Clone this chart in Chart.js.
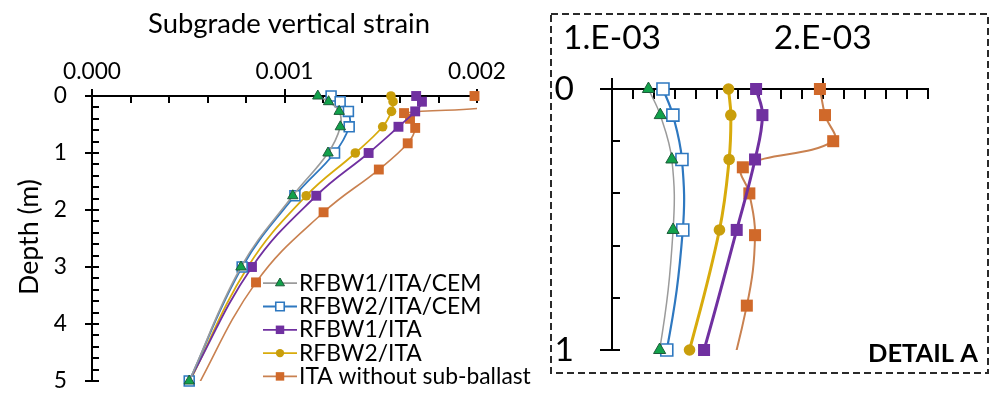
<!DOCTYPE html>
<html>
<head>
<meta charset="utf-8">
<script src="https://cdn.jsdelivr.net/npm/chart.js@4.4.1/dist/chart.umd.min.js"></script>
<style>
  html, body { margin: 0; padding: 0; background: #fff; }
  #wrap { position: relative; width: 994px; height: 396px; overflow: hidden; }
  canvas { position: absolute; top: 0; }
  #main { left: 0; }
  #detail { left: 540px; }
</style>
</head>
<body>
<div id="wrap">
  <canvas id="main" width="545" height="396"></canvas>
  <canvas id="detail" width="454" height="396"></canvas>
</div>
<script>
// depth of each output point (m)
const depthReinforced = [0, 0.1, 0.27, 0.54, 1, 1.75, 3, 5];
const depthNoSubBallast = [0, 0.1, 0.2, 0.3, 0.4, 0.56, 0.83, 1.29, 2.04, 3.27, 5.27];

// subgrade vertical strain at those depths
const strainRFBW1CEM = [0.001173, 0.001229, 0.001284, 0.00129, 0.001226, 0.001043, 0.000774, 0.000505];
const strainRFBW2CEM = [0.001242, 0.001289, 0.001332, 0.001336, 0.00126, 0.001054, 0.00078, 0.000505];
const strainRFBW1 = [0.001684, 0.001714, 0.001679, 0.001592, 0.001437, 0.001165, 0.000831, 0.000505];
const strainRFBW2 = [0.001553, 0.001564, 0.001556, 0.00151, 0.001368, 0.001113, 0.000809, 0.000509];
const strainNoSubBallast = [0.001987, 0.002011, 0.00205, 0.001621, 0.001652, 0.001679, 0.00164, 0.00149, 0.001203, 0.000852, 0.00052];

const seriesLabels = ['RFBW1/ITA/CEM', 'RFBW2/ITA/CEM', 'RFBW1/ITA', 'RFBW2/ITA', 'ITA without sub-ballast'];
const seriesDepths = [depthReinforced, depthReinforced, depthReinforced, depthReinforced, depthNoSubBallast];
const seriesStrains = [strainRFBW1CEM, strainRFBW2CEM, strainRFBW1, strainRFBW2, strainNoSubBallast];

// tick labels
const mainStrainTicks = [0, 0.001, 0.002];
const mainStrainLabels = ['0.000', '0.001', '0.002'];
const mainDepthTicks = [0, 1, 2, 3, 4, 5];
const mainDepthLabels = ['0', '1', '2', '3', '4', '5'];
const detailStrainTicks = [0.001, 0.002];
const detailStrainLabels = ['1.E-03', '2.E-03'];
const detailDepthTicks = [0, 1];
const detailDepthLabels = ['0', '1'];

const FONT = 'Lato';
Chart.defaults.font.family = FONT;
Chart.defaults.color = '#000';

// pick a font size so a text takes the same width as in the picture
const measureCtx = document.createElement('canvas').getContext('2d');
function fitSize(text, width, weight) {
  measureCtx.font = (weight || 'normal') + ' 100px ' + FONT;
  return 100 * width / measureCtx.measureText(text).width;
}
const mainTickSize = fitSize('0.000', 58);
const detailTickSize = fitSize('1.E-03', 98);
const titleSize = fitSize('Subgrade vertical strain', 282);
const depthTitleSize = fitSize('Depth (m)', 116);
const legendSize = fitSize('ITA without sub-ballast', 232);
const detailLabelSize = fitSize('DETAIL A', 110, 'bold');

const looks = [
  { line: '#9b9b9b', fill: '#12a24b', edge: '#1d5a3a', shape: 'triangle', edgeW: 1 },
  { line: '#2e78c0', fill: '#ffffff', edge: '#2e78c0', shape: 'rect', edgeW: 1.6 },
  { line: '#7030a0', fill: '#7030a0', edge: '#7030a0', shape: 'rect', edgeW: 0 },
  { line: '#d8ab0c', fill: '#c99e0b', edge: '#c99e0b', shape: 'circle', edgeW: 0 },
  { line: '#c98150', fill: '#d0692a', edge: '#d0692a', shape: 'rect', edgeW: 0 }
];

// excel style axes: line along top and left, minor ticks inside, major ticks crossing
const axesPlugin = {
  id: 'excelAxes',
  beforeDatasetsDraw(chart, args, o) {
    const { ctx, chartArea: a } = chart;
    const x = chart.scales.x, y = chart.scales.y;
    ctx.save();
    ctx.strokeStyle = '#000';
    ctx.lineWidth = o.lineWidth;
    ctx.beginPath();
    ctx.moveTo(a.left - o.yOut, a.top);
    ctx.lineTo(a.right + 1, a.top);
    ctx.moveTo(a.left, a.top - o.xOut);
    ctx.lineTo(a.left, a.bottom + 1);
    const nx = Math.round((x.max - x.min) / o.xMinor);
    for (let i = 0; i <= nx; i++) {
      const v = x.min + i * o.xMinor;
      const major = Math.abs(v / o.xMajor - Math.round(v / o.xMajor)) < 1e-6;
      const px = Math.round(x.getPixelForValue(v));
      ctx.moveTo(px, a.top - (major ? o.xOut : 0));
      ctx.lineTo(px, a.top + o.xIn);
    }
    const ny = Math.round((y.max - y.min) / o.yMinor);
    for (let i = 0; i <= ny; i++) {
      const v = y.min + i * o.yMinor;
      const major = Math.abs(v / o.yMajor - Math.round(v / o.yMajor)) < 1e-6;
      const py = Math.round(y.getPixelForValue(v));
      ctx.moveTo(a.left - (major ? o.yOut : 0), py);
      ctx.lineTo(a.left + o.yIn, py);
    }
    ctx.stroke();
    ctx.restore();
  }
};

// lines clipped hard at the plot area, markers only when inside it
const seriesClip = {
  id: 'seriesClip',
  beforeDatasetDraw(chart, args) {
    const { ctx, chartArea: a } = chart;
    const meta = args.meta;
    ctx.save();
    ctx.beginPath();
    ctx.rect(a.left, a.top - 2, a.right - a.left, a.bottom - a.top + 2);
    ctx.clip();
    meta.dataset.draw(ctx, a);
    ctx.restore();
    const all = { left: -1e5, top: -1e5, right: 1e5, bottom: 1e5 };
    meta.data.forEach(p => {
      if (p.x >= a.left - 1 && p.x <= a.right + 1 && p.y >= a.top - 1 && p.y <= a.bottom + 1) p.draw(ctx, all);
    });
    return false;
  }
};

function marker(ctx, shape, x, y, r) {
  ctx.beginPath();
  if (shape === 'circle') ctx.arc(x, y, r, 0, Math.PI * 2);
  else if (shape === 'rect') ctx.rect(x - r * Math.SQRT1_2, y - r * Math.SQRT1_2, 2 * r * Math.SQRT1_2, 2 * r * Math.SQRT1_2);
  else {
    ctx.moveTo(x, y - r);
    ctx.lineTo(x + r * 0.866, y + r * 0.5);
    ctx.lineTo(x - r * 0.866, y + r * 0.5);
    ctx.closePath();
  }
  ctx.fill();
}

const decorations = {
  id: 'decorations',
  afterDraw(chart, args, o) {
    const ctx = chart.ctx;
    ctx.save();
    ctx.fillStyle = '#000';
    if (o.kind === 'main') {
      ctx.font = titleSize + 'px ' + FONT;
      ctx.textAlign = 'center';
      ctx.textBaseline = 'alphabetic';
      ctx.fillText('Subgrade vertical strain', 289, 33);
      ctx.save();
      ctx.translate(38, 237);
      ctx.rotate(-Math.PI / 2);
      ctx.font = depthTitleSize + 'px ' + FONT;
      ctx.fillText('Depth (m)', 0, 0);
      ctx.restore();
      // legend
      ctx.font = legendSize + 'px ' + FONT;
      ctx.textAlign = 'left';
      chart.data.datasets.forEach((ds, i) => {
        const base = 290.7 + i * 23.3;
        const cy = base - 7.5;
        ctx.strokeStyle = looks[i].line;
        ctx.lineWidth = 1.8;
        ctx.beginPath();
        ctx.moveTo(263, cy);
        ctx.lineTo(297, cy);
        ctx.stroke();
        const r = { triangle: 5.2, rect: 6, circle: 4.2 }[looks[i].shape];
        ctx.fillStyle = looks[i].fill;
        marker(ctx, looks[i].shape, 280, cy, r);
        if (looks[i].edgeW) {
          ctx.strokeStyle = looks[i].edge;
          ctx.lineWidth = looks[i].edgeW;
          ctx.stroke();
        }
        ctx.fillStyle = '#000';
        ctx.fillText(ds.label, 299, base);
      });
    } else {
      ctx.font = 'bold ' + detailLabelSize + 'px ' + FONT;
      ctx.textAlign = 'right';
      ctx.textBaseline = 'alphabetic';
      ctx.fillText('DETAIL A', 438, 361.5);
      ctx.strokeStyle = '#2a2a2a';
      ctx.lineWidth = 2;
      ctx.setLineDash([7, 4]);
      ctx.strokeRect(11, 14, 437, 359);
    }
    ctx.restore();
  }
};

// the scales keep exactly the size asked for, with no extra room for edge labels
function fixScale(s, size) {
  if (s.isHorizontal()) s.height = size; else s.width = size;
  s.paddingTop = 0;
  s.paddingBottom = 0;
  s.paddingLeft = 0;
  s.paddingRight = 0;
}

function buildChart(canvas, opt) {
  const datasets = seriesLabels.map((label, i) => ({
    label: label,
    data: seriesDepths[i].map((d, k) => ({ x: seriesStrains[i][k], y: d })),
    borderColor: looks[i].line,
    borderWidth: opt.lineWidths[i],
    pointStyle: looks[i].shape,
    pointRadius: opt.radius[looks[i].shape],
    pointBackgroundColor: looks[i].fill,
    pointBorderColor: looks[i].edge,
    pointBorderWidth: looks[i].edgeW,
    tension: 0.4,
    fill: false
  }));
  return new Chart(canvas, {
    type: 'line',
    data: { datasets: datasets },
    options: {
      responsive: false,
      animation: false,
      devicePixelRatio: 1,
      events: [],
      layout: { padding: opt.padding, autoPadding: false },
      plugins: {
        legend: { display: false },
        tooltip: { enabled: false },
        excelAxes: opt.axes,
        decorations: { kind: opt.kind }
      },
      scales: {
        x: {
          type: 'linear',
          position: 'top',
          min: opt.xMin,
          max: opt.xMax,
          grid: { display: false, drawTicks: false },
          border: { display: false },
          ticks: {
            font: { size: opt.tickSize },
            color: '#000',
            padding: opt.xPad,
            maxRotation: 0,
            callback: (v, idx) => opt.xLabels[idx]
          },
          afterBuildTicks: s => { s.ticks = opt.xTicks.map(v => ({ value: v })); },
          afterFit: s => fixScale(s, opt.top)
        },
        y: {
          type: 'linear',
          reverse: true,
          min: 0,
          max: opt.yMax,
          grid: { display: false, drawTicks: false },
          border: { display: false },
          ticks: {
            font: { size: opt.tickSize },
            color: '#000',
            padding: opt.yPad,
            callback: (v, idx) => opt.yLabels[idx]
          },
          afterBuildTicks: s => { s.ticks = opt.yTicks.map(v => ({ value: v })); },
          afterFit: s => fixScale(s, opt.left)
        }
      }
    },
    plugins: [axesPlugin, seriesClip, decorations]
  });
}

buildChart(document.getElementById('main'), {
  kind: 'main',
  xMin: 0, xMax: 0.002, yMax: 5,
  xTicks: mainStrainTicks, xLabels: mainStrainLabels,
  yTicks: mainDepthTicks, yLabels: mainDepthLabels,
  tickSize: mainTickSize,
  xPad: 11, yPad: 25,
  top: 96, left: 92,
  padding: { left: 0, top: 0, right: 68, bottom: 15 },
  lineWidths: [1.6, 1.8, 1.8, 1.8, 1.6],
  radius: { triangle: 6, rect: 7, circle: 4.8 },
  axes: { lineWidth: 2, xMinor: 0.0002, xMajor: 0.001, yMinor: 0.2, yMajor: 1, xOut: 7, xIn: 7, yOut: 7, yIn: 7 }
});

buildChart(document.getElementById('detail'), {
  kind: 'detail',
  xMin: 0.001, xMax: 0.0025, yMax: 1,
  xTicks: detailStrainTicks, xLabels: detailStrainLabels,
  yTicks: detailDepthTicks, yLabels: detailDepthLabels,
  tickSize: detailTickSize,
  xPad: 31, yPad: 38,
  top: 89, left: 72,
  padding: { left: 0, top: 0, right: 66, bottom: 46 },
  lineWidths: [1.5, 2.2, 3, 3, 2],
  radius: { triangle: 7, rect: 8.5, circle: 5.8 },
  axes: { lineWidth: 2, xMinor: 0.0001, xMajor: 0.001, yMinor: 0.2, yMajor: 1, xOut: 11, xIn: 10, yOut: 12, yIn: 8 }
});
</script>
</body>
</html>
